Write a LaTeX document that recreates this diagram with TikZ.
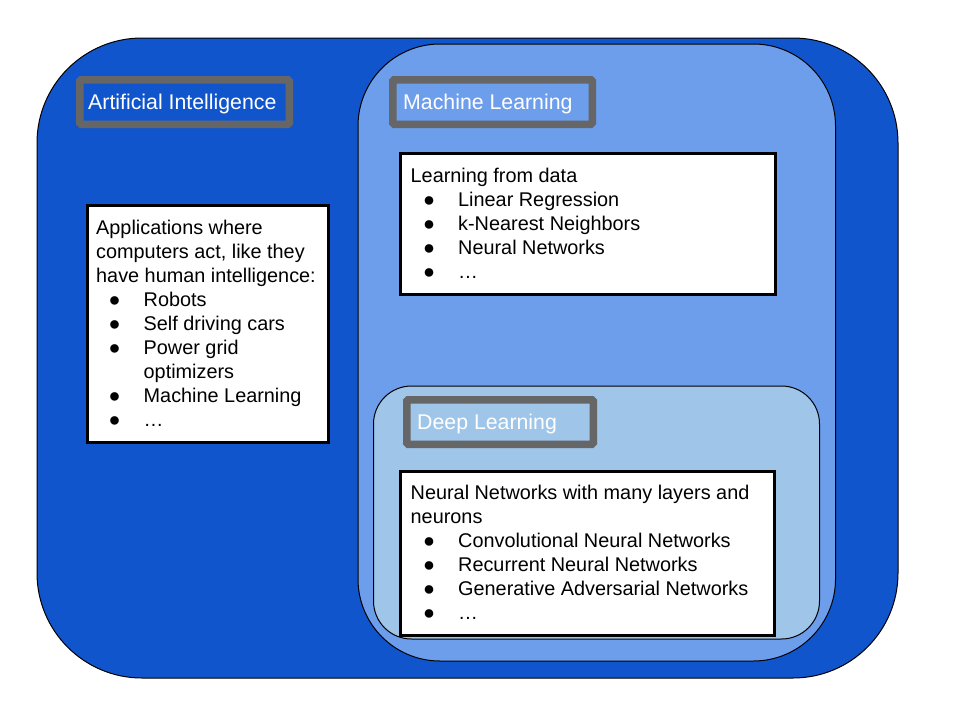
\documentclass[tikz,border=0pt]{standalone}
\usepackage{fontspec}
\setmainfont{Liberation Sans}
\definecolor{aiblue}{HTML}{1155CC}
\definecolor{mlblue}{HTML}{6D9EEB}
\definecolor{dlblue}{HTML}{9FC5E8}
\definecolor{tgray}{HTML}{666666}
\newcommand\bodyfont{\fontsize{19.85}{24}\selectfont}
\newcommand\titlefont{\fontsize{21.3}{25}\selectfont}
\newcommand\bl{\hspace*{12.5pt}\makebox[35pt][l]{●}}
\newcommand\ind{\hspace*{47.5pt}}
\newcommand\textlines[1]{\vtop{\baselineskip=24pt\lineskiplimit=-100pt\lineskip=0pt #1}}
\begin{document}
\begin{tikzpicture}[x=1pt,y=-1pt,
  region/.style={draw=black, line width=1pt},
  titlebox/.style={draw=tgray, line width=7.5pt, rounded corners=1.5pt, inner sep=0pt, minimum height=44.5pt},
  titletext/.style={anchor=base west, inner sep=0pt, text=white, font=\titlefont},
  infobox/.style={draw=black, line width=3pt, fill=white, inner sep=0pt},
  infotext/.style={anchor=base west, inner sep=0pt, font=\bodyfont}]
\useasboundingbox (0,0) rectangle (960,720);
% regions
\draw[region, fill=aiblue, rounded corners=105pt] (37,38) rectangle (898,678);
\draw[region, fill=mlblue, rounded corners=82pt] (358,44) rectangle (835.5,661);
\draw[region, fill=dlblue, rounded corners=38pt] (373.5,386) rectangle (819.5,639);
% title boxes
\node[titlebox, fill=aiblue, minimum width=209.5pt] (aititle) at (184.5,102) {};
\node[titletext] (aititletext) at (88,109) {Artificial Intelligence};
\node[titlebox, fill=mlblue, minimum width=199.5pt] (mltitle) at (492.5,102) {};
\node[titletext] (mltitletext) at (403,109) {Machine Learning};
\node[titlebox, fill=dlblue, minimum width=186.5pt] (dltitle) at (500,422) {};
\node[titletext] (dltitletext) at (417,429) {Deep Learning};
% info boxes
\node[infobox, minimum width=241pt, minimum height=237pt] (aibox) at (208,324) {};
\node[infotext] (aitext) at (96,234) {\textlines{%
  \hbox{Applications where}
  \hbox{computers act, like they}
  \hbox{have human intelligence:}
  \hbox{\bl Robots}
  \hbox{\bl Self driving cars}
  \hbox{\bl Power grid}
  \hbox{\ind optimizers}
  \hbox{\bl Machine Learning}
  \hbox{\bl …}}};
\node[infobox, minimum width=375pt, minimum height=141pt] (mlbox) at (588,224) {};
\node[infotext] (mltext) at (410.5,182) {\textlines{%
  \hbox{Learning from data}
  \hbox{\bl Linear Regression}
  \hbox{\bl k-Nearest Neighbors}
  \hbox{\bl Neural Networks}
  \hbox{\bl …}}};
\node[infobox, minimum width=374pt, minimum height=164pt] (dlbox) at (587.5,553.5) {};
\node[infotext] (dltext) at (410.5,499) {\textlines{%
  \hbox{Neural Networks with many layers and}
  \hbox{neurons}
  \hbox{\bl Convolutional Neural Networks}
  \hbox{\bl Recurrent Neural Networks}
  \hbox{\bl Generative Adversarial Networks}
  \hbox{\bl …}}};
\end{tikzpicture}
\end{document}
